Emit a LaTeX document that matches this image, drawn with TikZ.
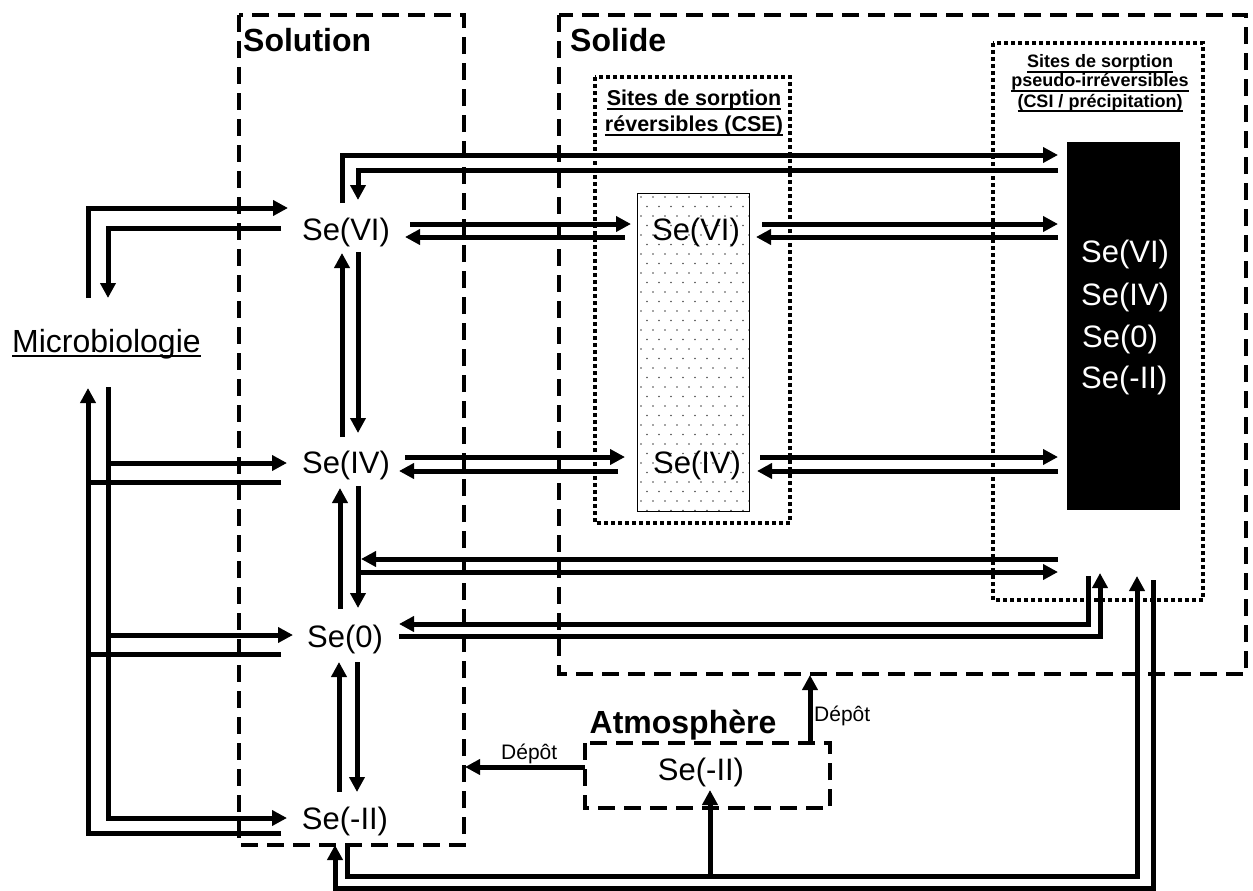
\documentclass[tikz,border=0pt]{standalone}
\usepackage{fontspec}
\setmainfont{Liberation Sans}
\usetikzlibrary{arrows.meta}
\newcommand\myuline[3]{\leavevmode\begingroup\setbox0\hbox{#3}\rlap{\vrule height -#1 depth \dimexpr#1+#2\relax width \wd0}\box0\endgroup}
\tikzset{
  arr/.style={line width=5pt, -{Triangle[length=15pt,width=15pt]}},
  ln/.style={line width=5pt},
  dbox/.style={line width=3.5pt, dash pattern=on 17pt off 9pt},
  dotbox/.style={line width=3.6pt, dash pattern=on 3.6pt off 3.4pt},
  se/.style={font=\fontsize{31}{36}\selectfont, anchor=base, inner sep=0pt},
  sew/.style={font=\fontsize{31}{36}\selectfont, anchor=base west, inner sep=0pt, text=white},
  hdr/.style={font=\fontsize{32}{38}\selectfont\bfseries, inner sep=0pt},
  sm/.style={font=\fontsize{21.5}{26}\selectfont\bfseries, anchor=base, inner sep=0pt},
  xs/.style={font=\fontsize{18}{20}\selectfont\bfseries, anchor=base, inner sep=0pt},
  dep/.style={font=\fontsize{21}{24}\selectfont, inner sep=0pt},
}
\begin{document}
\begin{tikzpicture}[x=1pt,y=-1pt]
\useasboundingbox (0,0) rectangle (1253,891);
\fill[white] (0,0) rectangle (1253,891);

% stippled CSE box
\fill[white] (637,193) rectangle (749,511);
\begin{scope}
\clip (637,193) rectangle (749,511);
\foreach \j in {0,...,33} {
  \pgfmathsetmacro\yy{197+\j*9.5}
  \pgfmathsetmacro\off{mod(\j,2)*6}
  \foreach \i in {0,...,9} { \fill[black!70] (641+\off+\i*12,\yy) circle (0.9pt); }
}
\end{scope}
\draw[line width=1pt] (637,193) rectangle (749,511);

% black CSI block
\fill[black] (1067,142) rectangle (1180,510);

% boxes
\draw[dbox] (239,15) rectangle (464,845);
\draw[dbox] (559,15) rectangle (1246,674);
\draw[dbox] (585,743) rectangle (830,808);
\draw[dotbox] (595,77) rectangle (790,523);
\draw[dotbox] (993,43) rectangle (1203,600);

% texts
\node[hdr, anchor=base west] (hsol) at (243,52) {Solution};
\node[hdr, anchor=base west] (hsolid) at (570,52) {Solide};
\node[hdr, anchor=base] (hatm) at (683,733) {Atmosphère};

\node[sm] (cse1) at (694,105) {\myuline{3pt}{2pt}{Sites de sorption}};
\node[sm] (cse2) at (694,131) {\myuline{3pt}{2pt}{réversibles (CSE)}};
\node[xs] (csi1) at (1100,68) {\myuline{3pt}{1.6pt}{Sites de sorption}};
\node[xs] (csi2) at (1100,87) {\myuline{3pt}{1.6pt}{pseudo-irréversibles}};
\node[xs] (csi3) at (1100,107) {\myuline{3pt}{1.6pt}{(CSI / précipitation)}};

\node[font=\fontsize{32}{38}\selectfont, anchor=base west, inner sep=0pt] (micro) at (12,352) {\myuline{3pt}{2pt}{Microbiologie}};

\node[se] (sVI) at (346,240) {Se(VI)};
\node[se] (sIV) at (346,473) {Se(IV)};
\node[se] (s0) at (345,647) {Se(0)};
\node[se] (sII) at (345,829) {Se(-II)};
\node[se] (cVI) at (696,240) {Se(VI)};
\node[se] (cIV) at (697,473) {Se(IV)};
\node[se] (aII) at (701,780) {Se(-II)};

\node[sew] (kVI) at (1081,262) {Se(VI)};
\node[sew] (kIV) at (1081,305) {Se(IV)};
\node[sew] (k0) at (1082,347) {Se(0)};
\node[sew] (kII) at (1081,388) {Se(-II)};

\node[dep, anchor=base west] (dep1) at (501,759) {Dépôt};
\node[dep, anchor=base west] (dep2) at (814,721) {Dépôt};

% microbiology connectors
\draw[arr] (88,298) -- (88,208) -- (288,208);
\draw[arr] (281,228) -- (108,228) -- (108,298);
\draw[arr] (108,387) -- (108,818) -- (287,818);
\draw[arr] (108,463) -- (287,463);
\draw[arr] (108,635) -- (293,635);
\draw[arr] (281,833) -- (88,833) -- (88,388);
\draw[ln] (281,482) -- (88,482);
\draw[ln] (281,654) -- (88,654);

% vertical solution arrows
\draw[arr] (342,437) -- (342,253);
\draw[arr] (358,252) -- (358,433);
\draw[arr] (340,609) -- (340,488);
\draw[arr] (358,486) -- (358,608);
\draw[arr] (339,792) -- (339,662);
\draw[arr] (357,662) -- (357,792);

% top loop
\draw[arr] (342,203) -- (342,155) -- (1058,155);
\draw[arr] (1058,170) -- (358,170) -- (358,200);

% row VI
\draw[arr] (410,224) -- (631,224);
\draw[arr] (625,237) -- (405,237);
\draw[arr] (762,224) -- (1058,224);
\draw[arr] (1058,237) -- (756,237);

% row IV
\draw[arr] (405,457) -- (625,457);
\draw[arr] (618,471) -- (399,471);
\draw[arr] (760,457) -- (1058,457);
\draw[arr] (1058,471) -- (757,471);

% IV-0 path to CSI
\draw[arr] (1058,559) -- (361,559);
\draw[arr] (356,572) -- (1058,572);

% Se(0) to CSI
\draw[arr] (1088,576) -- (1088,624) -- (399,624);
\draw[arr] (399,636) -- (1100,636) -- (1100,573);

% Se(-II) bottom loop
\draw[arr] (347,845) -- (347,876) -- (1137,876) -- (1137,576);
\draw[arr] (710,876) -- (710,790);
\draw[arr] (1153,580) -- (1153,888) -- (335,888) -- (335,845);

% deposition
\draw[arr] (585,767) -- (465,767);
\draw[arr] (810,743) -- (810,675);
\end{tikzpicture}
\end{document}
